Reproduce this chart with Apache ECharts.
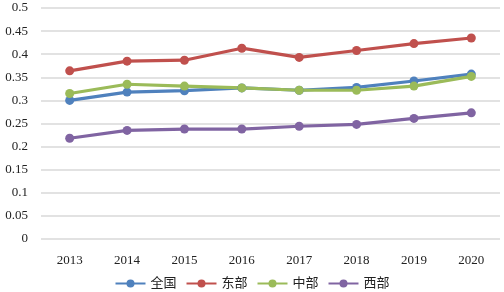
<!DOCTYPE html>
<html>
<head>
<meta charset="utf-8">
<script src="https://cdn.jsdelivr.net/npm/echarts@6/dist/echarts.min.js"></script>
<style>
  html, body { margin: 0; padding: 0; background: #fff; }
  #chart { width: 504px; height: 292px; }
</style>
</head>
<body>
<div id="chart"></div>
<script>
const years = ['2013', '2014', '2015', '2016', '2017', '2018', '2019', '2020'];
const quanguo = [0.300, 0.318, 0.321, 0.327, 0.322, 0.328, 0.342, 0.357];
const dongbu = [0.364, 0.385, 0.387, 0.413, 0.393, 0.408, 0.423, 0.435];
const zhongbu = [0.315, 0.335, 0.331, 0.327, 0.322, 0.322, 0.331, 0.352];
const xibu = [0.218, 0.235, 0.238, 0.238, 0.244, 0.248, 0.261, 0.273];
const yTicks = [0, 0.05, 0.1, 0.15, 0.2, 0.25, 0.3, 0.35, 0.4, 0.45, 0.5];

const font = '"Liberation Serif", "Noto Sans CJK SC", serif';

const chart = echarts.init(document.getElementById('chart'));

const makeSeries = (name, data, color) => ({
  name,
  type: 'line',
  data,
  symbol: 'circle',
  symbolSize: 9,
  lineStyle: { width: 3.2, color },
  itemStyle: { color },
  emphasis: { disabled: true },
});

const option = {
  animation: false,
  textStyle: { fontFamily: font },
  color: ['#4f81bd', '#c0504d', '#9bbb59', '#8064a2'],
  grid: { left: 41, right: 4, top: 8, bottom: 53 },
  legend: {
    top: 272,
    left: 'center',
    itemWidth: 30,
    itemHeight: 10,
    itemGap: 9,
    textStyle: { fontSize: 13, color: '#222', fontFamily: font },
    data: ['全国', '东部', '中部', '西部'],
  },
  xAxis: {
    type: 'category',
    data: years,
    axisLine: { show: false },
    axisTick: { show: false },
    axisLabel: { fontSize: 13, color: '#222', margin: 15, fontFamily: font },
  },
  yAxis: {
    type: 'value',
    min: 0,
    max: 0.5,
    interval: 0.05,
    axisLabel: {
      fontSize: 13,
      color: '#222',
      margin: 13,
      fontFamily: font,
      formatter: (v) => {
        const t = yTicks.find((x) => Math.abs(x - v) < 1e-9);
        return String(t !== undefined ? t : v);
      },
    },
    splitLine: { lineStyle: { color: '#d9d9d9', width: 1.5 } },
  },
  series: [
    makeSeries('全国', quanguo, '#4f81bd'),
    makeSeries('东部', dongbu, '#c0504d'),
    makeSeries('中部', zhongbu, '#9bbb59'),
    makeSeries('西部', xibu, '#8064a2'),
  ],
};

chart.setOption(option);
</script>
</body>
</html>
